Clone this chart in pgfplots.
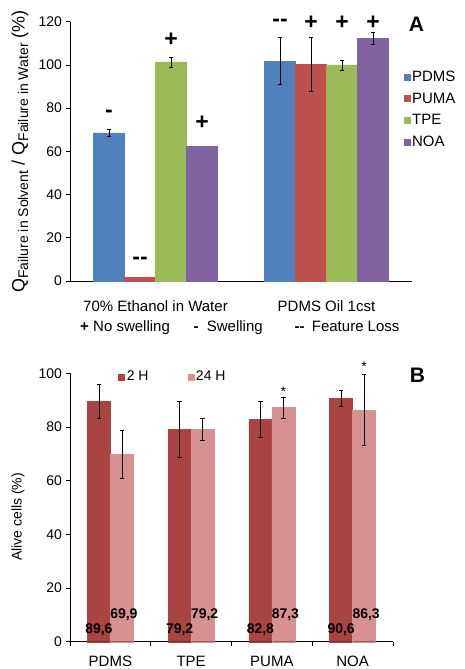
\documentclass[border=0pt]{standalone}
\usepackage{fontspec}
\setmainfont{Liberation Sans}
\usepackage{pgfplots}
\pgfplotsset{compat=1.18}

\definecolor{cPDMS}{RGB}{79,129,189}
\definecolor{cPUMA}{RGB}{192,80,77}
\definecolor{cTPE}{RGB}{155,187,89}
\definecolor{cNOA}{RGB}{128,100,162}
\definecolor{cTwoH}{RGB}{169,68,66}
\definecolor{cDayH}{RGB}{214,146,145}

\newcommand\fs{\fontsize{15bp}{18bp}\selectfont}
\newcommand\ls{\fontsize{14bp}{17bp}\selectfont}
\newcommand\sym{\bfseries\fontsize{23bp}{26bp}\selectfont}

\pgfplotsset{
  panel/.style={
    scale only axis,
    axis lines*=left,
    axis line style={black, line width=0.9pt},
    tick align=outside,
    tick style={black, line width=0.8pt},
    major tick length=4.5bp,
    ymin=0,
    clip=false,
    ybar=0pt,
    tick label style={font=\ls, /pgf/number format/assume math mode=true},
    legend image code/.code={\fill[##1] (0bp,-3bp) rectangle (6bp,3bp);},
  },
  errs/.style={
    forget plot, draw=none, fill=none,
    error bars/y dir=both, error bars/y explicit,
    error bars/error bar style={draw=black, line width=0.6pt},
    error bars/error mark options={draw=black, rotate=90, mark size=2.2bp, line width=0.6pt},
  },
}

\begin{document}
\begin{tikzpicture}
\useasboundingbox (0,0) rectangle (465bp,669bp);

% ---------------- panel A ----------------
\begin{axis}[panel,
  at={(70bp,388bp)}, anchor=south west,
  width=342bp, height=259.3bp,
  xmin=-0.5, xmax=1.5, ymax=120,
  ytick={0,20,...,120},
  xtick={0,1},
  xticklabels={70\% Ethanol in Water, PDMS Oil 1cst},
  major x tick style={draw=none},
  xticklabel style={font=\fs, yshift=-12bp},
  bar width=31bp,
  legend style={at={(0.968,0.825)}, anchor=north west, draw=none, fill=none,
    font=\fs, row sep=7bp, cells={anchor=west}, nodes={inner sep=1.5bp}},
]
\addplot[fill=cPDMS, draw=cPDMS, bar shift=-46.5bp] coordinates {(0,68.6) (1,101.8)};
\addplot[fill=cPUMA, draw=cPUMA, bar shift=-15.5bp] coordinates {(0,1.7) (1,100.3)};
\addplot[fill=cTPE,  draw=cTPE,  bar shift=15.5bp]  coordinates {(0,101.4) (1,100.0)};
\addplot[fill=cNOA,  draw=cNOA,  bar shift=46.5bp]  coordinates {(0,62.2) (1,112.2)};
\legend{PDMS, PUMA, TPE, NOA}

% error bars
\addplot[errs, bar shift=-46.5bp] coordinates {(0,68.6) +- (0,1.5) (1,101.8) +- (0,11.0)};
\addplot[errs, bar shift=-15.5bp] coordinates {(1,100.3) +- (0,12.5)};
\addplot[errs, bar shift=15.5bp]  coordinates {(0,101.4) +- (0,2.3) (1,100.0) +- (0,2.3)};
\addplot[errs, bar shift=46.5bp]  coordinates {(1,112.2) +- (0,2.7)};

% swelling marks
\node[font=\sym] at ([xshift=-46.5bp]axis cs:0,77.3) {-};
\node[font=\sym] at ([xshift=-15.5bp]axis cs:0,9.4) {-{}-};
\node[font=\sym] at ([xshift=15.5bp]axis cs:0,111.5) {+};
\node[font=\sym] at ([xshift=46.5bp]axis cs:0,73.0) {+};
\node[font=\sym] at ([xshift=-46.5bp]axis cs:1,119.5) {-{}-};
\node[font=\sym] at ([xshift=-15.5bp]axis cs:1,119.5) {+};
\node[font=\sym] at ([xshift=15.5bp]axis cs:1,119.5) {+};
\node[font=\sym] at ([xshift=46.5bp]axis cs:1,119.5) {+};
\end{axis}

\node[rotate=90] at (20bp,517.5bp) {%
  {\fontsize{18bp}{20bp}\selectfont Q}\raisebox{-3.5bp}{\fontsize{14bp}{16bp}\selectfont Failure in Solvent}%
  {\fontsize{18bp}{20bp}\selectfont\ /\ Q}\raisebox{-3.5bp}{\fontsize{14bp}{16bp}\selectfont Failure in Water}%
  {\fontsize{18bp}{20bp}\selectfont\ (\%)}};

\node[font=\bfseries\fontsize{21bp}{24bp}\selectfont] at (416.5bp,644.7bp) {A};

% key line under panel A
\begin{scope}[every node/.style={inner sep=0pt, font=\fs}]
\node[anchor=base, font=\bfseries\fs] at (84.5bp,337.3bp) {+};
\node[anchor=base west] at (93bp,337.3bp) {No swelling};
\node[anchor=base, font=\bfseries\fs] at (196bp,337.3bp) {-};
\node[anchor=base west] at (206.7bp,337.3bp) {Swelling};
\node[anchor=base, font=\bfseries\fs] at (299.5bp,337.3bp) {-{}-};
\node[anchor=base west] at (311.7bp,337.3bp) {Feature Loss};
\end{scope}

% ---------------- panel B ----------------
\begin{axis}[panel,
  at={(70bp,27.3bp)}, anchor=south west,
  width=323bp, height=268.4bp,
  xmin=-0.5, xmax=3.5, ymax=100,
  ytick={0,20,...,100},
  xtick={0,1,2,3},
  xticklabels={PDMS, TPE, PUMA, NOA},
  minor xtick={-0.5,0.5,1.5,2.5,3.5},
  major x tick style={draw=none},
  minor tick length=4.5bp,
  xticklabel style={font=\fs, yshift=-6bp},
  bar width=23bp,
  legend columns=2,
  legend style={at={(0.14,0.987)}, anchor=west, draw=none, fill=none, font=\ls,
    /tikz/every even column/.append style={column sep=37bp}},
]
\addplot[fill=cTwoH, draw=cTwoH, bar shift=-11.5bp] coordinates {(0,89.6) (1,79.2) (2,82.8) (3,90.6)};
\addplot[fill=cDayH, draw=cDayH, bar shift=11.5bp]  coordinates {(0,69.9) (1,79.2) (2,87.3) (3,86.3)};
\legend{2 H, 24 H}

\addplot[errs, bar shift=-11.5bp] coordinates {(0,89.6) +- (0,6.4) (1,79.2) +- (0,10.4) (2,82.8) +- (0,6.8) (3,90.6) +- (0,3.0)};
\addplot[errs, bar shift=11.5bp]  coordinates {(0,69.9) +- (0,9.0) (1,79.2) +- (0,4.0) (2,87.3) +- (0,3.9) (3,86.3) +- (0,13.3)};

% values written at the foot of the bars
\begin{scope}[every node/.style={inner sep=0pt, anchor=base, font=\bfseries\ls}]
\node at ([xshift=-11.5bp]axis cs:0,2.9) {89,6};
\node at ([xshift=13.5bp]axis cs:0,8.5) {69,9};
\node at ([xshift=-11.5bp]axis cs:1,2.9) {79,2};
\node at ([xshift=13.5bp]axis cs:1,8.5) {79,2};
\node at ([xshift=-11.5bp]axis cs:2,2.9) {82,8};
\node at ([xshift=13.5bp]axis cs:2,8.5) {87,3};
\node at ([xshift=-11.5bp]axis cs:3,2.9) {90,6};
\node at ([xshift=13.5bp]axis cs:3,8.5) {86,3};
\end{scope}
\node[inner sep=0pt, anchor=base, font=\ls] at ([xshift=11.5bp]axis cs:2,91.5) {*};
\node[inner sep=0pt, anchor=base, font=\ls] at ([xshift=11.5bp]axis cs:3,100.7) {*};
\end{axis}

\node[rotate=90, font=\ls] at (18bp,152bp) {Alive cells (\%)};
\node[font=\bfseries\fontsize{21bp}{24bp}\selectfont] at (417.5bp,294bp) {B};
\end{tikzpicture}
\end{document}
